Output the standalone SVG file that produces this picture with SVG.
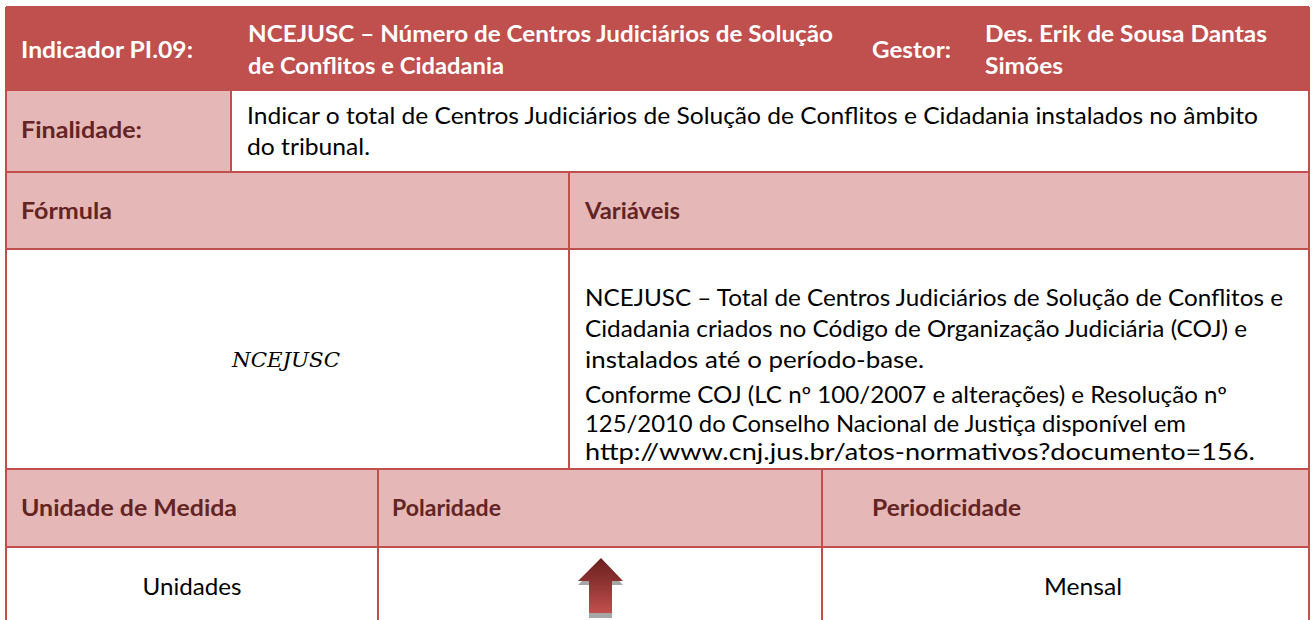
<svg xmlns="http://www.w3.org/2000/svg" width="1312" height="620" viewBox="0 0 1312 620">
<defs>
<linearGradient id="arrowGrad" x1="0" y1="0" x2="0" y2="1">
<stop offset="0" stop-color="#6A1F1F"/>
<stop offset="0.45" stop-color="#8E3332"/>
<stop offset="1" stop-color="#C0504D"/>
</linearGradient>
<style>
.hdr{fill:#C0504D}
.pink{fill:#E5B8B7}
.white{fill:#FFFFFF}
.grid{stroke:#C0504D;stroke-width:2;fill:none}
text{font-family:Lato,"Open Sans","Liberation Sans",sans-serif;font-size:22.5px}
.ht{fill:#FFFFFF;font-weight:bold}
.lt{fill:#632423;font-weight:bold}
.bt{fill:#000000}
.math{font-family:"DejaVu Serif","Liberation Serif",serif;font-style:italic;font-size:21px;fill:#000000}
</style>
</defs>
<rect x="0" y="0" width="1312" height="620" fill="#FFFFFF"/>

<g id="header">
<rect class="hdr" x="6" y="7" width="1303" height="83"/>
<text class="ht" x="21" y="58" textLength="172" lengthAdjust="spacingAndGlyphs">Indicador PI.09:</text>
<text class="ht" x="248" y="42" textLength="585" lengthAdjust="spacingAndGlyphs">NCEJUSC – Número de Centros Judiciários de Solução</text>
<text class="ht" x="248" y="74" textLength="256" lengthAdjust="spacingAndGlyphs">de Conflitos e Cidadania</text>
<text class="ht" x="872" y="58" textLength="79" lengthAdjust="spacingAndGlyphs">Gestor:</text>
<text class="ht" x="985" y="42" textLength="282" lengthAdjust="spacingAndGlyphs">Des. Erik de Sousa Dantas</text>
<text class="ht" x="985" y="74" textLength="78" lengthAdjust="spacingAndGlyphs">Simões</text>
</g>

<g id="finalidade">
<rect class="pink" x="6" y="90" width="225" height="82"/>
<rect class="white" x="231" y="90" width="1078" height="82"/>
<text class="lt" x="21" y="138" textLength="121" lengthAdjust="spacingAndGlyphs">Finalidade:</text>
<text class="bt" x="247" y="124" textLength="1011" lengthAdjust="spacingAndGlyphs">Indicar o total de Centros Judiciários de Solução de Conflitos e Cidadania instalados no âmbito</text>
<text class="bt" x="247" y="155" textLength="123" lengthAdjust="spacingAndGlyphs">do tribunal.</text>
</g>

<g id="formula-header">
<rect class="pink" x="6" y="172" width="1303" height="77"/>
<text class="lt" x="21" y="219" textLength="91" lengthAdjust="spacingAndGlyphs">Fórmula</text>
<text class="lt" x="585" y="219" textLength="95" lengthAdjust="spacingAndGlyphs">Variáveis</text>
</g>

<g id="formula-body">
<text class="math" x="286" y="367" text-anchor="middle" textLength="108" lengthAdjust="spacingAndGlyphs">NCEJUSC</text>
<text class="bt" x="585" y="306" textLength="698" lengthAdjust="spacingAndGlyphs">NCEJUSC – Total de Centros Judiciários de Solução de Conflitos e</text>
<text class="bt" x="585" y="337" textLength="662" lengthAdjust="spacingAndGlyphs">Cidadania criados no Código de Organização Judiciária (COJ) e</text>
<text class="bt" x="585" y="368" textLength="339" lengthAdjust="spacingAndGlyphs">instalados até o período-base.</text>
<text class="bt" x="585" y="403" textLength="642" lengthAdjust="spacingAndGlyphs">Conforme COJ (LC nº 100/2007 e alterações) e Resolução nº</text>
<text class="bt" x="585" y="432" textLength="601" lengthAdjust="spacingAndGlyphs">125/2010 do Conselho Nacional de Justiça disponível em</text>
<text class="bt" x="585" y="460" textLength="670" lengthAdjust="spacingAndGlyphs">http://www.cnj.jus.br/atos-normativos?documento=156.</text>
</g>

<g id="attributes-header">
<rect class="pink" x="6" y="469" width="1303" height="78"/>
<text class="lt" x="21" y="516" textLength="216" lengthAdjust="spacingAndGlyphs">Unidade de Medida</text>
<text class="lt" x="392" y="516" textLength="109" lengthAdjust="spacingAndGlyphs">Polaridade</text>
<text class="lt" x="872" y="516" textLength="149" lengthAdjust="spacingAndGlyphs">Periodicidade</text>
</g>

<g id="attributes-body">
<text class="bt" x="192" y="595" text-anchor="middle" textLength="99" lengthAdjust="spacingAndGlyphs">Unidades</text>
<text class="bt" x="1083" y="595" text-anchor="middle" textLength="78" lengthAdjust="spacingAndGlyphs">Mensal</text>
</g>

<g id="polarity-arrow">
<polygon points="601,562 623,585 612,585 612,618 589,618 589,585 578,585" fill="#A6A6A6"/>
<polygon points="601,558 623,581 612,581 612,613 589,613 589,581 578,581" fill="url(#arrowGrad)"/>
</g>

<g id="grid-lines">
<line class="grid" x1="6" y1="7" x2="6" y2="620"/>
<line class="grid" x1="1309" y1="7" x2="1309" y2="620"/>
<line class="grid" x1="6" y1="7" x2="1309" y2="7"/>
<line class="grid" x1="6" y1="90" x2="1309" y2="90"/>
<line class="grid" x1="6" y1="172" x2="1309" y2="172"/>
<line class="grid" x1="6" y1="249" x2="1309" y2="249"/>
<line class="grid" x1="6" y1="469" x2="1309" y2="469"/>
<line class="grid" x1="6" y1="547" x2="1309" y2="547"/>
<line class="grid" x1="231" y1="90" x2="231" y2="172"/>
<line class="grid" x1="569" y1="172" x2="569" y2="469"/>
<line class="grid" x1="378" y1="469" x2="378" y2="620"/>
<line class="grid" x1="822" y1="469" x2="822" y2="620"/>
</g>
</svg>
